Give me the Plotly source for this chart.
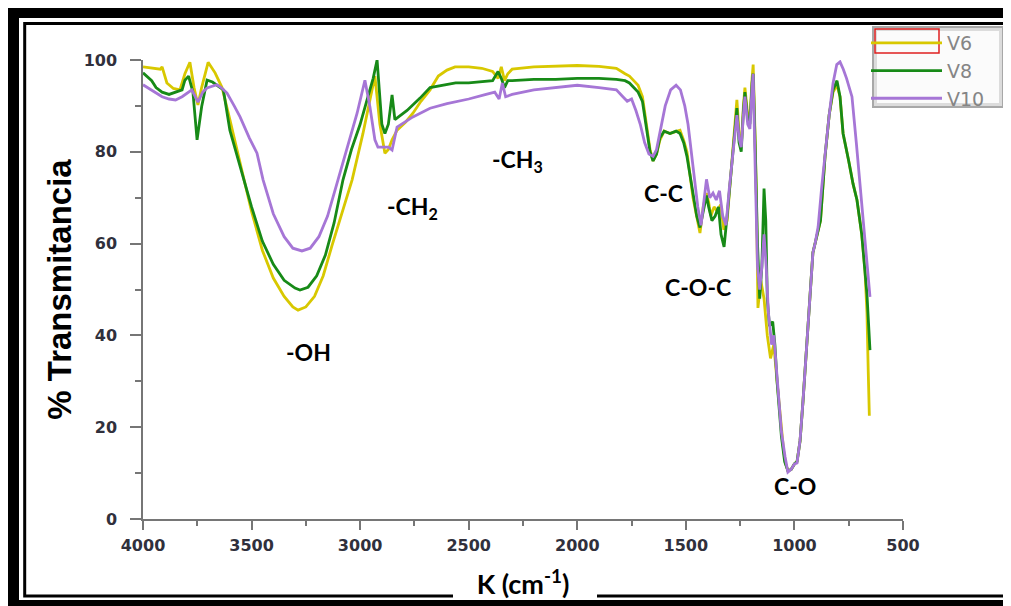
import plotly.graph_objects as go

# ---------------- data ----------------
wn_v6 = [4000, 3960, 3920, 3912, 3890, 3860, 3830, 3807, 3784, 3765, 3747, 3730, 3700, 3668, 3636,
         3600, 3540, 3500, 3450, 3400, 3350, 3310, 3286, 3250, 3210, 3170, 3130, 3080, 3037, 2987,
         2945, 2932, 2909, 2886, 2870, 2853, 2830, 2790, 2757, 2720, 2678, 2640, 2600, 2563, 2500,
         2440, 2390, 2365, 2350, 2335, 2320, 2300, 2200, 2100, 2000, 1900, 1820, 1780, 1760, 1740,
         1720, 1700, 1680, 1665, 1651, 1635, 1620, 1600, 1573, 1540, 1527, 1510, 1495, 1467, 1450,
         1435, 1420, 1405, 1395, 1385, 1370, 1355, 1340, 1325, 1310, 1295, 1283, 1265, 1255, 1245,
         1235, 1228, 1215, 1205, 1195, 1190, 1182, 1175, 1168, 1155, 1140, 1125, 1110, 1095, 1080,
         1065, 1050, 1040, 1030, 1015, 1000, 988, 974, 960, 945, 928, 915, 900, 880, 859, 840, 822,
         804, 790, 776, 750, 730, 712, 690, 675, 666, 660, 655]
t_v6 = [98.5, 98.2, 98.0, 98.5, 95.0, 93.8, 93.5, 97.0, 99.5, 94.0, 90.2, 94.0, 99.5, 97.2, 94.0,
        87.0, 75.4, 67.0, 58.5, 52.5, 48.5, 46.2, 45.5, 46.2, 48.5, 53.0, 59.5, 67.0, 73.9, 84.0,
        93.5, 96.5, 86.0, 79.7, 80.5, 82.6, 84.7, 86.5, 88.4, 91.0, 93.5, 96.5, 97.8, 98.5, 98.5,
        98.2, 97.5, 96.0, 98.5, 95.5, 97.0, 98.0, 98.5, 98.6, 98.8, 98.6, 98.2, 97.0, 96.5, 95.5,
        94.5, 92.0, 86.0, 80.5, 78.0, 79.5, 82.5, 84.5, 84.0, 84.5, 84.7, 82.5, 80.0, 70.0, 66.0,
        62.3, 68.0, 71.0, 69.0, 66.0, 68.0, 67.0, 68.5, 63.0, 65.0, 74.0, 82.0, 91.3, 84.0, 81.0,
        90.0, 94.0, 88.0, 87.0, 96.0, 99.0, 85.0, 70.0, 46.0, 52.0, 48.0, 40.0, 35.0, 38.0, 30.0,
        22.0, 15.0, 12.0, 10.5, 10.8, 12.0, 12.5, 17.0, 26.0, 37.0, 47.7, 58.0, 61.0, 65.0, 79.0,
        88.0, 93.0, 94.5, 92.0, 84.0, 78.0, 73.0, 69.5, 62.0, 54.0, 45.0, 32.0, 22.5]

wn_v8 = [4000, 3985, 3960, 3940, 3912, 3880, 3850, 3820, 3807, 3790, 3770, 3751, 3730, 3705, 3680,
         3660, 3630, 3600, 3553, 3500, 3450, 3400, 3350, 3300, 3277, 3240, 3200, 3160, 3120, 3079,
         3040, 3000, 2964, 2940, 2922, 2900, 2886, 2870, 2853, 2840, 2784, 2724, 2678, 2620, 2560,
         2500, 2440, 2390, 2365, 2350, 2335, 2320, 2300, 2200, 2100, 2000, 1900, 1820, 1780, 1760,
         1740, 1720, 1700, 1680, 1665, 1651, 1635, 1620, 1600, 1573, 1545, 1527, 1510, 1495, 1467,
         1450, 1435, 1420, 1405, 1395, 1380, 1365, 1350, 1338, 1324, 1310, 1295, 1283, 1265, 1255,
         1245, 1235, 1228, 1215, 1205, 1195, 1190, 1180, 1170, 1160, 1150, 1140, 1132, 1125, 1115,
         1100, 1090, 1080, 1060, 1045, 1030, 1015, 1000, 988, 974, 960, 945, 928, 915, 900, 880,
         859, 840, 822, 804, 790, 776, 750, 730, 712, 690, 666, 652]
t_v8 = [97.2, 96.5, 95.5, 94.0, 93.0, 92.5, 93.0, 93.5, 95.6, 96.5, 93.0, 82.6, 89.8, 95.6, 95.2,
        94.5, 93.5, 84.7, 76.7, 68.0, 60.5, 55.5, 52.0, 50.3, 49.9, 50.5, 53.0, 57.5, 64.5, 73.9,
        80.5, 86.0, 92.0, 96.0, 100.0, 86.0, 84.0, 86.0, 92.4, 87.0, 89.0, 91.7, 94.0, 94.5, 95.0,
        95.0, 95.2, 95.5, 97.5, 96.0, 94.0, 95.5, 95.5, 95.8, 95.8, 96.0, 96.0, 95.8, 95.5, 95.0,
        94.0, 93.0, 91.0, 85.0, 80.0, 78.0, 79.5, 83.0, 84.5, 84.0, 84.5, 84.0, 82.0, 79.0, 70.5,
        66.0, 63.5, 67.0, 70.5, 68.0, 65.0, 66.0, 68.0, 62.0, 59.3, 66.0, 74.0, 79.7, 89.5, 82.0,
        80.0, 89.0, 93.0, 87.0, 86.0, 95.0, 97.0, 80.0, 60.0, 48.0, 55.0, 72.0, 65.0, 48.0, 42.0,
        43.0, 38.0, 30.0, 18.0, 12.5, 10.5, 10.8, 12.0, 12.5, 17.0, 26.0, 37.0, 47.7, 58.0, 61.0, 65.0,
        79.0, 88.0, 93.5, 95.5, 92.0, 84.0, 78.0, 73.0, 69.5, 62.0, 49.0, 36.8]

wn_v10 = [4000, 3960, 3912, 3880, 3850, 3820, 3795, 3775, 3747, 3725, 3705, 3680, 3660, 3640, 3613,
          3580, 3553, 3510, 3475, 3447, 3400, 3350, 3310, 3268, 3230, 3190, 3150, 3102, 3060, 3014,
          2978, 2955, 2932, 2918, 2890, 2870, 2853, 2830, 2757, 2678, 2600, 2500, 2420, 2380, 2360,
          2345, 2330, 2300, 2200, 2100, 2000, 1900, 1820, 1790, 1770, 1750, 1730, 1710, 1690, 1670,
          1651, 1635, 1615, 1595, 1570, 1545, 1525, 1505, 1490, 1475, 1460, 1445, 1430, 1415, 1405,
          1390, 1375, 1360, 1345, 1330, 1315, 1300, 1283, 1265, 1255, 1245, 1235, 1228, 1215, 1205,
          1195, 1190, 1180, 1170, 1160, 1150, 1140, 1130, 1120, 1105, 1095, 1076, 1060, 1043, 1030,
          1015, 1000, 988, 974, 960, 945, 928, 915, 905, 891, 875, 859, 840, 822, 805, 790, 775, 760,
          735, 715, 698, 675, 652]
t_v10 = [94.6, 93.5, 92.0, 91.5, 91.3, 92.0, 92.8, 93.5, 90.8, 93.0, 93.9, 94.3, 94.6, 94.0, 92.8,
         90.0, 87.6, 83.0, 79.7, 73.9, 66.5, 61.5, 59.0, 58.4, 59.0, 61.5, 66.0, 73.9, 81.0, 88.4,
         95.6, 89.8, 82.6, 81.0, 81.0, 81.0, 80.4, 85.4, 87.6, 89.5, 90.5, 91.5, 92.5, 93.0, 91.5,
         95.0, 92.0, 92.5, 93.5, 94.0, 94.5, 94.0, 93.5, 92.0, 91.0, 91.5, 89.0, 86.0, 82.0, 79.5,
         79.0, 80.5, 85.0, 90.0, 93.5, 94.5, 93.5, 90.0, 86.0, 80.0, 74.0, 68.0, 64.0, 70.0, 74.0,
         70.0, 71.0, 69.5, 71.5, 66.0, 64.0, 72.0, 80.0, 88.0, 83.0, 81.0, 88.0, 92.0, 86.0, 85.0,
         94.0, 97.0, 75.0, 55.0, 50.0, 55.0, 62.0, 55.0, 45.0, 38.0, 40.0, 28.0, 19.0, 13.5, 10.2,
         10.8, 12.0, 12.2, 17.2, 26.0, 37.0, 47.7, 58.0, 60.0, 63.6, 72.0, 79.7, 88.0, 95.0, 99.0,
         99.6, 98.0, 96.0, 92.0, 82.0, 73.0, 60.0, 48.4]

series_names = ["V6", "V8", "V10"]
series_colors = ["#d8c800", "#178a17", "#a676d6"]

x_ticks = [4000, 3500, 3000, 2500, 2000, 1500, 1000, 500]
y_ticks = [0, 20, 40, 60, 80, 100]

band_labels = ["-OH", "-CH<sub>2</sub>", "-CH<sub>3</sub>", "C-C", "C-O-C", "C-O"]
band_label_px = [(308, 352), (412, 207), (517, 160), (663, 193), (698, 287), (795, 486)]

# ---------------- layout helpers ----------------
# the page puts the figure 8 px in from the top-left corner of the window,
# so the figure is 8 px smaller and every reference pixel is shifted by 8.
OFF = 8
W, H = 1011 - OFF, 606 - OFF
L, R, T, B = 143 - OFF, 903 - OFF, 60 - OFF, 519 - OFF


def ppx(x):  # reference window pixel -> paper x
    return (x - OFF - L) / (R - L)


def ppy(y):  # reference window pixel -> paper y
    return (B - (y - OFF)) / (B - T)


fig = go.Figure()
for wn, tv, name, col in zip([wn_v6, wn_v8, wn_v10], [t_v6, t_v8, t_v10], series_names, series_colors):
    fig.add_trace(go.Scatter(x=wn, y=tv, mode="lines", name=name,
                             line=dict(color=col, width=2.8)))

tickfont = dict(family="DejaVu Sans", size=16, color="#30303c", weight="bold")
axcol = "#767676"

fig.update_layout(
    width=W, height=H,
    margin=dict(l=L, r=W - R, t=T, b=H - B, autoexpand=False),
    paper_bgcolor="white", plot_bgcolor="white",
    showlegend=True,
    legend=dict(x=ppx(866), y=ppy(24), xanchor="left", yanchor="top",
                bgcolor="rgba(0,0,0,0)", borderwidth=0,
                font=dict(family="DejaVu Sans", size=19, color="#858585"),
                itemwidth=71, tracegroupgap=0),
    xaxis=dict(range=[4000, 500], tickvals=x_ticks, showgrid=False, zeroline=False,
               showline=True, linecolor=axcol, linewidth=1.5,
               ticks="outside", ticklen=9, tickcolor=axcol, tickwidth=1.5,
               minor=dict(dtick=250, ticks="outside", ticklen=5, tickcolor=axcol, tickwidth=1.5),
               tickfont=tickfont, ticklabelstandoff=2,
               title=dict(text="K (cm<sup>-1</sup>)", standoff=21,
                          font=dict(family="Lato", size=27, color="black", weight="bold"))),
    yaxis=dict(range=[0, 100], tickvals=y_ticks, showgrid=False, zeroline=False,
               showline=True, linecolor=axcol, linewidth=1.5,
               ticks="outside", ticklen=11, tickcolor=axcol, tickwidth=1.5,
               minor=dict(dtick=10, ticks="outside", ticklen=6, tickcolor=axcol, tickwidth=1.5),
               tickfont=tickfont, ticklabelstandoff=10,
               title=dict(text="% Transmitancia", standoff=2,
                          font=dict(family="Liberation Sans", size=33,
                                    color="black", weight="bold"))),
)

shapes = []
# outer thick frame (cropped on right and bottom)
for x0, y0, x1, y1 in [(7, 8, 1030, 18), (7, 8, 19, 620), (7, 600, 1030, 620)]:
    shapes.append(dict(type="rect", xref="paper", yref="paper", x0=ppx(x0), x1=ppx(x1),
                       y0=ppy(y0), y1=ppy(y1), fillcolor="black", line=dict(width=0), layer="above"))
# inner thin frame
shapes.append(dict(type="rect", xref="paper", yref="paper", x0=ppx(24.7), x1=ppx(1009),
                   y0=ppy(23.5), y1=ppy(596), line=dict(color="black", width=3), layer="above"))
# white box behind x title
shapes.append(dict(type="rect", xref="paper", yref="paper", x0=ppx(453), x1=ppx(597),
                   y0=ppy(575), y1=ppy(599.5), fillcolor="white", line=dict(width=0), layer="above"))
# legend box (shaded gray border) and red selection box round the first sample
shapes.append(dict(type="rect", xref="paper", yref="paper", x0=ppx(873), x1=ppx(1003),
                   y0=ppy(27), y1=ppy(107), fillcolor="#fbfbfb",
                   line=dict(color="#a8a8a8", width=2), layer="above"))
shapes.append(dict(type="rect", xref="paper", yref="paper", x0=ppx(875.5), x1=ppx(1000.5),
                   y0=ppy(29.5), y1=ppy(104.5), fillcolor="rgba(0,0,0,0)",
                   line=dict(color="#dcdcdc", width=3), layer="above"))
shapes.append(dict(type="rect", xref="paper", yref="paper", x0=ppx(875), x1=ppx(939),
                   y0=ppy(29), y1=ppy(53), line=dict(color="#e02020", width=1.5), layer="above"))
fig.update_layout(shapes=shapes)

for txt, (xp, yp) in zip(band_labels, band_label_px):
    fig.add_annotation(x=ppx(xp), y=ppy(yp), xref="paper", yref="paper", text=txt,
                       showarrow=False, xanchor="center", yanchor="middle",
                       font=dict(family="Lato", size=23, color="black", weight="bold"))

fig.write_html("out.html")
